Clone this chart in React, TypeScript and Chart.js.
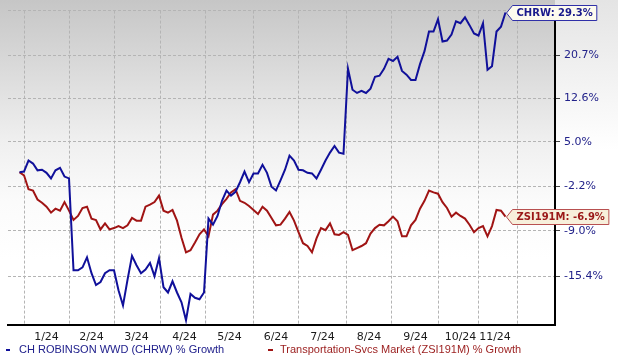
import React, { useEffect, useRef } from "react";
import { Chart, registerables } from "chart.js";

Chart.register(...registerables);

// ---- data ----
// one sample every STEP_DAYS days, starting at START_DAY (day 0 = Jan 1, 2024)
const START_DAY = -3;
const STEP_DAYS = 3;

const chrwGrowth = [
  0.0, 0.1, 1.9, 1.4, 0.3, 0.4, -0.1, -1.0, 0.3, 0.7,
  -0.7, -1.0, -14.6, -14.6, -14.2, -12.8, -15.0, -16.6, -16.2, -15.0,
  -14.6, -14.6, -17.3, -19.3, -15.9, -12.6, -13.9, -15.0, -14.5, -13.6,
  -15.4, -12.9, -16.9, -17.6, -16.1, -17.6, -18.9, -21.2, -17.8, -18.3,
  -18.5, -17.6, -7.2, -8.1, -6.8, -4.5, -2.9, -3.7, -3.1, -1.6,
  0.1, -1.6, -0.2, -0.2, 1.2, -0.1, -2.3, -2.9, -1.3, 0.4,
  2.7, 1.9, 0.4, 0.3, -0.1, -0.2, -1.0, 0.4, 1.9, 3.2,
  4.3, 3.2, 3.0, 18.1, 14.2, 13.6, 14.0, 13.6, 14.4, 16.6,
  16.8, 18.1, 20.0, 19.6, 20.4, 17.7, 17.0, 16.0, 16.0, 19.0,
  21.5, 25.4, 25.4, 27.9, 23.4, 23.6, 24.8, 27.5, 27.1, 28.3,
  26.7, 25.0, 24.6, 27.1, 17.9, 18.6, 25.4, 26.4, 29.3,
];

const zsiGrowth = [
  0.0, -0.5, -2.7, -2.9, -4.3, -4.8, -5.4, -6.3, -5.7, -6.0,
  -4.7, -6.0, -7.4, -6.8, -5.6, -5.4, -7.2, -7.4, -8.8, -7.9,
  -8.8, -8.6, -8.3, -8.6, -8.2, -7.1, -7.5, -7.5, -5.4, -5.1,
  -4.7, -3.7, -6.0, -6.3, -5.9, -7.5, -10.0, -12.1, -11.8, -10.7,
  -9.5, -8.8, -9.8, -6.6, -6.0, -5.0, -4.2, -3.2, -2.7, -4.5,
  -4.8, -5.3, -5.9, -6.5, -5.4, -6.0, -7.1, -8.2, -8.1, -7.2,
  -6.2, -7.5, -9.2, -10.8, -11.2, -12.1, -10.1, -8.6, -8.9, -7.9,
  -9.5, -9.6, -9.2, -9.6, -11.8, -11.5, -11.2, -10.8, -9.4, -8.6,
  -8.1, -8.2, -7.6, -6.9, -7.6, -9.8, -9.8, -8.2, -7.4, -5.7,
  -4.5, -2.9, -3.2, -3.4, -4.7, -5.6, -6.9, -6.3, -6.8, -7.2,
  -8.1, -9.2, -8.6, -8.3, -9.8, -8.3, -5.9, -6.0, -6.9,
];

const monthLabels = ["1/24", "2/24", "3/24", "4/24", "5/24", "6/24", "7/24", "8/24", "9/24", "10/24", "11/24"];
const monthLabelDays = [15, 45, 75, 107, 137, 168, 199, 230, 261, 291, 314];
const monthGridDays = [0, 30, 60, 91, 121, 153, 183, 215, 245, 276, 303, 329];

const yTickValues = [-15.4, -9.0, -2.2, 5.0, 12.6, 20.7];
const yTickLabels = ["-15.4%", "-9.0%", "-2.2%", "5.0%", "12.6%", "20.7%"];
const yMinPct = -21.8;
const yMaxPct = 29.7;
const xMinDay = -10.67;
const xMaxDay = 354;

const seriesNames = ["CH ROBINSON WWD (CHRW) % Growth", "Transportation-Svcs Market (ZSI191M) % Growth"];
const tagNames = ["CHRW", "ZSI191M"];

// ---- helpers ----
const toLog = (p: number) => Math.log(1 + p / 100);
const toPoints = (arr: number[]) => arr.map((p, i) => ({ x: START_DAY + i * STEP_DAYS, y: toLog(p) }));

const BLUE = "#10109a";
const RED = "#a01414";

const bgPlugin = {
  id: "bgGradient",
  beforeDraw(chart: any) {
    const { ctx, chartArea, width } = chart;
    ctx.save();
    const g = ctx.createLinearGradient(0, 0, 0, chartArea.bottom);
    g.addColorStop(0, "#c6c6c6");
    g.addColorStop(0.43, "#efefef");
    g.addColorStop(0.62, "#fbfbfb");
    g.addColorStop(0.8, "#ffffff");
    g.addColorStop(1, "#ffffff");
    ctx.fillStyle = g;
    ctx.fillRect(0, 0, chartArea.right, chartArea.bottom);
    const g2 = ctx.createLinearGradient(0, 0, 0, 150);
    g2.addColorStop(0, "#e4e4e4");
    g2.addColorStop(1, "#ffffff");
    ctx.fillStyle = g2;
    ctx.fillRect(chartArea.right, 0, width - chartArea.right, 150);
    ctx.restore();
  },
};

function drawTag(ctx: CanvasRenderingContext2D, x: number, y: number, text: string, textColor: string, borderColor: string, fill: string) {
  ctx.save();
  ctx.font = 'bold 10px "DejaVu Sans"';
  const w = ctx.measureText(text).width;
  const h = 15;
  const ptr = 6;
  const pad = 4;
  let top = y - h / 2;
  if (top < 1.5) top = 1.5;
  const left = Math.round(x) + 0.5;
  top = Math.round(top) + 0.5;
  const right = left + ptr + pad + w + pad;
  ctx.beginPath();
  ctx.moveTo(left, top + h / 2);
  ctx.lineTo(left + ptr, top);
  ctx.lineTo(right, top);
  ctx.lineTo(right, top + h);
  ctx.lineTo(left + ptr, top + h);
  ctx.closePath();
  ctx.fillStyle = fill;
  ctx.fill();
  ctx.lineWidth = 1;
  ctx.strokeStyle = borderColor;
  ctx.stroke();
  ctx.fillStyle = textColor;
  ctx.textBaseline = "middle";
  ctx.textAlign = "left";
  ctx.fillText(text, left + ptr + pad, top + h / 2 + 0.5);
  ctx.restore();
}

const tagPlugin = {
  id: "endTags",
  afterDraw(chart: any) {
    const { ctx } = chart;
    const styles = [
      { text: "#1a1a8c", border: "#3030a8", fill: "#fdfbee" },
      { text: "#9a1818", border: "#b85050", fill: "#f7efdb" },
    ];
    const finals = [chrwGrowth[chrwGrowth.length - 1], zsiGrowth[zsiGrowth.length - 1]];
    [1, 0].forEach((di) => {
      const meta = chart.getDatasetMeta(di);
      const pt = meta.data[meta.data.length - 1];
      const label = `${tagNames[di]}: ${finals[di].toFixed(1)}%`;
      drawTag(ctx, pt.x, pt.y, label, styles[di].text, styles[di].border, styles[di].fill);
    });
    // legend
    ctx.save();
    ctx.font = '11px "Liberation Sans"';
    ctx.textBaseline = "middle";
    ctx.textAlign = "left";
    const ly = 350;
    ctx.fillStyle = BLUE;
    ctx.fillRect(6, ly - 1, 4, 2);
    ctx.fillStyle = "#20208c";
    ctx.fillText(seriesNames[0], 19, ly);
    ctx.fillStyle = RED;
    ctx.fillRect(268, ly - 1, 5, 2);
    ctx.fillStyle = "#9a1c1c";
    ctx.fillText(seriesNames[1], 280, ly);
    ctx.restore();
  },
};

export default function App() {
  const ref = useRef<HTMLCanvasElement>(null);
  useEffect(() => {
    if (!ref.current) return;
    const gridSet = new Set(monthGridDays);
    const xTicks = [...monthGridDays, ...monthLabelDays].sort((a, b) => a - b);
    const yTopLog = toLog(yMaxPct);
    const chart = new Chart(ref.current, {
      type: "line",
      data: {
        datasets: [
          {
            label: seriesNames[0],
            data: toPoints(chrwGrowth),
            borderColor: BLUE,
            borderWidth: 2,
            pointRadius: 0,
            tension: 0,
            fill: false,
          },
          {
            label: seriesNames[1],
            data: toPoints(zsiGrowth),
            borderColor: RED,
            borderWidth: 2,
            pointRadius: 0,
            tension: 0,
            fill: false,
          },
        ],
      },
      options: {
        responsive: false,
        devicePixelRatio: 1,
        animation: false,
        events: [],
        layout: { padding: { left: 8, top: 9, right: 0, bottom: 0 } },
        plugins: { legend: { display: false }, tooltip: { enabled: false } },
        scales: {
          x: {
            type: "linear",
            min: xMinDay,
            max: xMaxDay,
            afterBuildTicks: (scale: any) => {
              scale.ticks = xTicks.map((v) => ({ value: v }));
            },
            afterFit: (scale: any) => {
              scale.height = 32;
            },
            grid: {
              color: (c: any) => (c.tick && gridSet.has(c.tick.value) ? "#b4b4b4" : "rgba(0,0,0,0)"),
              lineWidth: 1,
              drawTicks: false,
            },
            border: { display: true, color: "#000", width: 2, dash: [3, 2] },
            ticks: {
              autoSkip: false,
              maxRotation: 0,
              padding: 6,
              color: "#1a1a1a",
              font: { family: "DejaVu Sans", size: 11 },
              callback: (v: any) => {
                const i = monthLabelDays.indexOf(Number(v));
                return i >= 0 ? monthLabels[i] : "";
              },
            },
          },
          y: {
            type: "linear",
            position: "right",
            min: toLog(yMinPct),
            max: yTopLog,
            afterBuildTicks: (scale: any) => {
              scale.ticks = [...yTickValues.map((v) => ({ value: toLog(v) })), { value: yTopLog }];
            },
            afterFit: (scale: any) => {
              scale.width = 63;
            },
            grid: {
              color: "#b4b4b4",
              lineWidth: 1,
              drawTicks: true,
              tickLength: 5,
              tickColor: "#444",
              tickWidth: 1,
            },
            border: { display: true, color: "#000", width: 2, dash: [3, 2] },
            ticks: {
              autoSkip: false,
              padding: 4,
              color: "#22228a",
              font: { family: "DejaVu Sans", size: 11 },
              callback: (v: any) => {
                const i = yTickValues.findIndex((t) => Math.abs(toLog(t) - Number(v)) < 1e-9);
                return i >= 0 ? yTickLabels[i] : "";
              },
            },
          },
        },
      },
      plugins: [bgPlugin, tagPlugin],
    } as any);
    return () => chart.destroy();
  }, []);
  return (
    <div style={{ position: "fixed", left: 0, top: 0, width: 618, height: 357, background: "#fff" }}>
      <canvas ref={ref} width={618} height={357} style={{ display: "block", width: 618, height: 357 }} />
    </div>
  );
}
